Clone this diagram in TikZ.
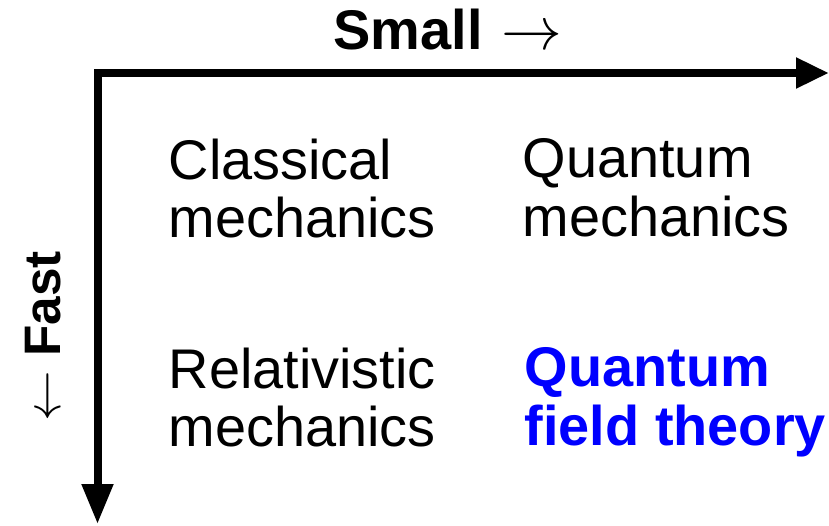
\documentclass[tikz,border=0pt]{standalone}
\usepackage{fontspec}
\setmainfont{Liberation Sans}
\usetikzlibrary{arrows.meta}

\begin{document}
\begin{tikzpicture}[
	axes/.style={line width=0.08cm, {Triangle[length=0.4cm, width=0.3cm]}-{Triangle[length=0.33cm, width=0.29cm]}},
	field/.style={align=left, inner sep=0pt, anchor=north west, font=\fontsize{15.9}{16.7}\selectfont},
	axistitle/.style={inner sep=0pt, anchor=base west, font=\fontsize{15.9}{16.7}\selectfont\bfseries}]
	\useasboundingbox (0, 0) rectangle (8.29, 5.25);
	% Axes and their titles:
	\coordinate (corner) at (0.975, 4.52);
	\coordinate (fastend) at (0.975, 0.01);
	\coordinate (smallend) at (8.29, 4.52);
	\draw[axes] (fastend) -- (corner) -- (smallend);
	\node[axistitle] (small) at (3.33, 4.75) {Small\hspace{0.05em} $\rightarrow$};
	\node[axistitle, rotate=90, font=\fontsize{14.6}{16}\selectfont\bfseries] (fast) at (0.6, 1.03) {$\leftarrow$ Fast};
	% Fields of mechanics:
	\node[field] (classical) at (1.68, 3.87) {Classical\\mechanics};
	\node[field] (quantum) at (5.22, 3.87) {Quantum\\mechanics};
	\node[field] (relativistic) at (1.68, 1.78) {Relativistic\\mechanics};
	\node[field, text=blue, font=\fontsize{15.9}{16.7}\selectfont\bfseries] (qft) at (5.24, 1.78) {Quantum\\field theory};
\end{tikzpicture}
\end{document}
